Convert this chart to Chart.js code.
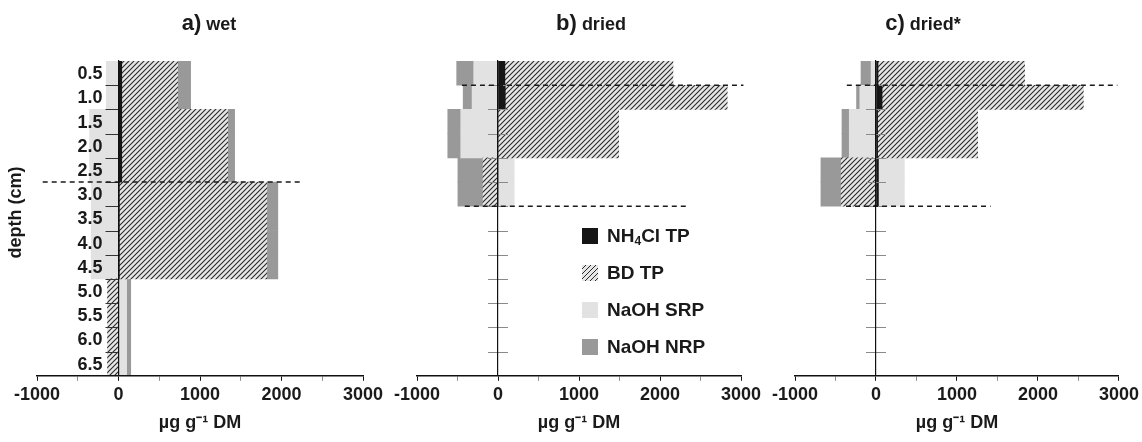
<!DOCTYPE html>
<html>
<head>
<meta charset="utf-8">
<script src="https://cdn.jsdelivr.net/npm/chart.js@4.4.1/dist/chart.umd.min.js"></script>
<style>
    html, body { margin: 0; padding: 0; background: #fff; }
    #wrap { position: relative; width: 1142px; height: 442px; overflow: hidden;
            font-family: "Liberation Sans", Arial, sans-serif; font-weight: bold; color: #1a1a1a; }
    .panel { position: absolute; top: 0; height: 442px; }
    .title { position: absolute; top: 10px; line-height: 26px; font-size: 18px; white-space: nowrap; transform: translateX(-50%); }
    .title span { font-size: 22px; }
    .legend { position: absolute; left: 582px; top: 217px; font-size: 19px; }
    .legend div { height: 37px; display: flex; align-items: center; white-space: nowrap; }
    .sw { width: 16px; height: 16px; margin-right: 9px; }
    sub { font-size: 12px; position: relative; top: 5px; }
</style>
</head>
<body>
<div id="wrap">
    <div class="panel" style="left:0; width:400px"><canvas id="wetChart"></canvas></div>
    <div class="panel" style="left:380px; width:400px"><canvas id="driedChart"></canvas></div>
    <div class="panel" style="left:760px; width:382px"><canvas id="dried2Chart"></canvas></div>

    <div class="title" style="left:209px"><span>a)</span> wet</div>
    <div class="title" style="left:591px"><span>b)</span> dried</div>
    <div class="title" style="left:923px"><span>c)</span> dried*</div>

    <div class="legend">
        <div><span class="sw" style="background:#151515"></span>NH<sub>4</sub>Cl TP</div>
        <div><span class="sw" style="background:repeating-linear-gradient(135deg, #e6e6e6 0 2.5px, #2a2a2a 2.5px 3.5px)"></span>BD TP</div>
        <div><span class="sw" style="background:#e2e2e2"></span>NaOH SRP</div>
        <div><span class="sw" style="background:#999999"></span>NaOH NRP</div>
    </div>
</div>

<script>
// depth classes (cm)
const depths = ['0.5', '1.0', '1.5', '2.0', '2.5', '3.0', '3.5', '4.0', '4.5', '5.0', '5.5', '6.0', '6.5'];

// a) wet, µg g-1 DM
const wetNH4Cl = [40, 40, 40, 40, 40, 10, 10, 10, 10, 0, 0, 0, 0];
const wetBD = [685, 685, 1300, 1300, 1300, 1810, 1810, 1810, 1810, -135, -135, -135, -135];
const wetSRP = [-150, -150, -355, -355, -355, -335, -335, -335, -335, 100, 100, 100, 100];
const wetNRP = [160, 160, 85, 85, 85, 135, 135, 135, 135, 50, 50, 50, 50];

// b) dried
const driedNH4Cl = [85, 90, 0, 0, 0, 0, null, null, null, null, null, null, null];
const driedBD = [2075, 2740, 1490, 1490, -185, -185, null, null, null, null, null, null, null];
const driedSRP = [-300, -320, -460, -460, 200, 200, null, null, null, null, null, null, null];
const driedNRP = [-210, -110, -160, -160, -310, -310, null, null, null, null, null, null, null];

// c) dried*
const dried2NH4Cl = [25, 75, 20, 20, 30, 30, null, null, null, null, null, null, null];
const dried2BD = [1810, 2485, 1235, 1235, -430, -430, null, null, null, null, null, null, null];
const dried2SRP = [-60, -200, -330, -330, 320, 320, null, null, null, null, null, null, null];
const dried2NRP = [-125, -40, -90, -90, -250, -250, null, null, null, null, null, null, null];

// dashed layer boundaries: depth (cm) and x extent
const wetCutDepth = [2.75];
const wetCutFrom = [-930];
const wetCutTo = [2245];
const driedCutDepth = [0.75, 3.25];
const driedCutFrom = [-445, -410];
const driedCutTo = [3030, 2320];
const dried2CutDepth = [0.75, 3.25];
const dried2CutFrom = [-360, -370];
const dried2CutTo = [2980, 1415];

const FONT = "'Liberation Sans', Arial, sans-serif";

function makeHatch(ctx) {
    const tile = document.createElement('canvas');
    tile.width = 5;
    tile.height = 5;
    const g = tile.getContext('2d');
    g.fillStyle = '#e6e6e6';
    g.fillRect(0, 0, 5, 5);
    g.strokeStyle = '#2a2a2a';
    g.lineWidth = 1.1;
    g.beginPath();
    g.moveTo(0, 5); g.lineTo(5, 0);
    g.moveTo(-1, 1); g.lineTo(1, -1);
    g.moveTo(4, 6); g.lineTo(6, 4);
    g.stroke();
    return ctx.createPattern(tile, 'repeat');
}

// depth labels and tick marks along the zero line, dashed layer lines, y title
const depthMarks = {
    id: 'depthMarks',
    afterDatasetsDraw(chart, args, o) {
        const { ctx } = chart;
        const xs = chart.scales.x, ys = chart.scales.y;
        const x0 = xs.getPixelForValue(0);
        ctx.save();
        ctx.strokeStyle = o.tickColor;
        ctx.lineWidth = 1;
        for (let i = 1; i < depths.length; i++) {
            const py = Math.round(ys.getPixelForValue(i - 0.5)) + 0.5;
            ctx.beginPath();
            ctx.moveTo(x0 - o.tickLeft, py);
            ctx.lineTo(x0 + o.tickRight, py);
            ctx.stroke();
        }
        ctx.font = 'bold 18px ' + FONT;
        ctx.fillStyle = '#1a1a1a';
        if (o.labels) {
            ctx.textAlign = 'right';
            ctx.textBaseline = 'middle';
            depths.forEach((d, i) => ctx.fillText(d, x0 - 16, ys.getPixelForValue(i) + 1));
        }
        ctx.setLineDash([5, 4]);
        ctx.lineWidth = 1.5;
        ctx.strokeStyle = '#1a1a1a';
        o.cutDepth.forEach((d, i) => {
            const py = ys.getPixelForValue((d - 0.5) / 0.5);
            ctx.beginPath();
            ctx.moveTo(xs.getPixelForValue(o.cutFrom[i]), py);
            ctx.lineTo(xs.getPixelForValue(o.cutTo[i]), py);
            ctx.stroke();
        });
        if (o.yTitle) {
            ctx.translate(16, (chart.chartArea.top + chart.chartArea.bottom) / 2 - 6);
            ctx.rotate(-Math.PI / 2);
            ctx.textAlign = 'center';
            ctx.textBaseline = 'middle';
            ctx.fillText(o.yTitle, 0, 0);
        }
        ctx.restore();
    }
};

function makePanel(id, nh4, bd, srp, nrp, marks, pad) {
    const ctx = document.getElementById(id).getContext('2d');
    return new Chart(ctx, {
        type: 'bar',
        data: {
            labels: depths,
            datasets: [
                { label: 'NH4Cl TP', data: nh4, backgroundColor: '#151515' },
                { label: 'BD TP', data: bd, backgroundColor: makeHatch(ctx) },
                { label: 'NaOH SRP', data: srp, backgroundColor: '#e2e2e2' },
                { label: 'NaOH NRP', data: nrp, backgroundColor: '#999999' }
            ]
        },
        options: {
            indexAxis: 'y',
            responsive: true,
            maintainAspectRatio: false,
            animation: false,
            datasets: { bar: { barPercentage: 1, categoryPercentage: 1, borderWidth: 0 } },
            layout: { padding: { left: pad[0], right: pad[1], top: 61, bottom: 4 } },
            plugins: {
                legend: { display: false },
                tooltip: { enabled: false },
                depthMarks: marks
            },
            scales: {
                x: {
                    type: 'linear',
                    min: -1000,
                    max: 3000,
                    stacked: true,
                    grid: {
                        drawOnChartArea: false,
                        tickLength: 5,
                        tickColor: c => (c.tick && c.tick.value % 1000 !== 0) ? '#8a8a8a' : '#111'
                    },
                    border: { color: '#111', width: 1.5, z: 1 },
                    ticks: {
                        stepSize: 500,
                        autoSkip: false,
                        maxRotation: 0,
                        padding: 3,
                        color: '#1a1a1a',
                        font: { family: FONT, size: 18, weight: 'bold' },
                        callback: v => v % 1000 === 0 ? String(v) : ''
                    },
                    title: {
                        display: true,
                        text: 'µg g⁻¹ DM',
                        color: '#1a1a1a',
                        padding: { top: 4, bottom: 4 },
                        font: { family: FONT, size: 18, weight: 'bold' }
                    }
                },
                y: {
                    type: 'category',
                    stacked: true,
                    position: { x: 0 },
                    grid: { drawOnChartArea: false, drawTicks: false },
                    border: { color: '#111', width: 1.2, z: 1 },
                    ticks: { display: false }
                }
            }
        },
        plugins: [depthMarks]
    });
}

makePanel('wetChart', wetNH4Cl, wetBD, wetSRP, wetNRP,
    { tickColor: '#333', tickLeft: 13, tickRight: 0, labels: true,
      cutDepth: wetCutDepth, cutFrom: wetCutFrom, cutTo: wetCutTo, yTitle: 'depth (cm)' },
    [37, 37]);
makePanel('driedChart', driedNH4Cl, driedBD, driedSRP, driedNRP,
    { tickColor: '#8a8a8a', tickLeft: 10, tickRight: 10, labels: false,
      cutDepth: driedCutDepth, cutFrom: driedCutFrom, cutTo: driedCutTo },
    [37, 39]);
makePanel('dried2Chart', dried2NH4Cl, dried2BD, dried2SRP, dried2NRP,
    { tickColor: '#8a8a8a', tickLeft: 10, tickRight: 10, labels: false,
      cutDepth: dried2CutDepth, cutFrom: dried2CutFrom, cutTo: dried2CutTo },
    [35, 22]);
</script>
</body>
</html>
